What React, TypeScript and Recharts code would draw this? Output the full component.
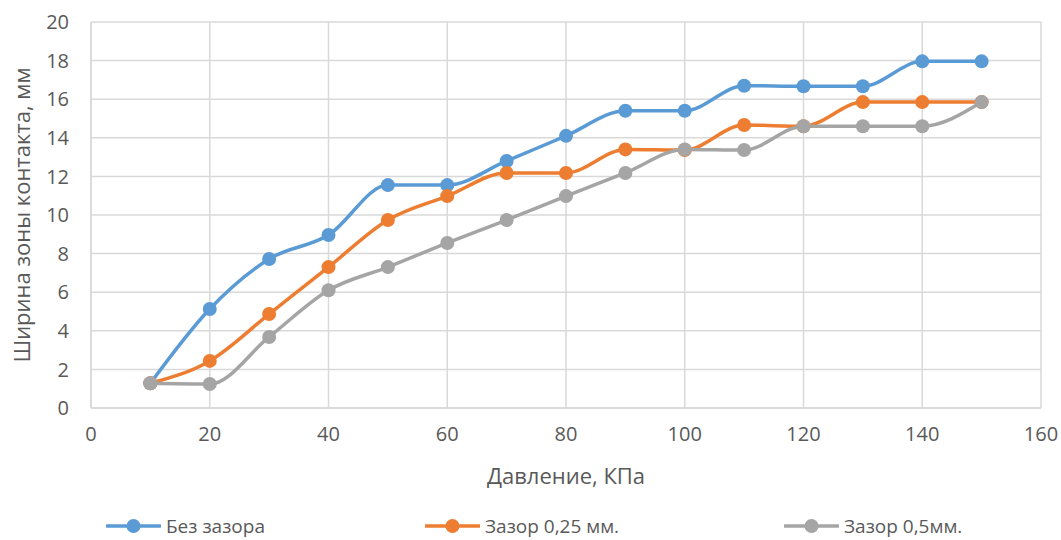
import {
  LineChart,
  Line,
  XAxis,
  YAxis,
  CartesianGrid,
  Legend,
  Label,
} from 'recharts';

const pressure = [10, 20, 30, 40, 50, 60, 70, 80, 90, 100, 110, 120, 130, 140, 150];
const noGap = [1.28, 5.13, 7.72, 8.96, 11.55, 11.55, 12.8, 14.1, 15.4, 15.4, 16.7, 16.67, 16.67, 17.96, 17.96];
const gap025 = [1.28, 2.44, 4.87, 7.3, 9.74, 10.98, 12.18, 12.18, 13.4, 13.37, 14.66, 14.6, 15.85, 15.85, 15.85];
const gap05 = [1.28, 1.24, 3.68, 6.1, 7.3, 8.55, 9.74, 10.98, 12.18, 13.4, 13.37, 14.6, 14.6, 14.6, 15.85];

const xTicks = [0, 20, 40, 60, 80, 100, 120, 140, 160];
const yTicks = [0, 2, 4, 6, 8, 10, 12, 14, 16, 18, 20];

const seriesNames = ['Без зазора', 'Зазор 0,25 мм.', 'Зазор 0,5мм.'];
const colors = ['#5B9BD5', '#ED7D31', '#A5A5A5'];

const data = pressure.map((p, i) => ({
  p,
  a: noGap[i],
  b: gap025[i],
  c: gap05[i],
}));

const FONT = '"Open Sans", "Liberation Sans", sans-serif';

// легенда как в Excel: линия с закрашенной точкой
const renderLegend = () => {
  const lefts = [106, 425, 784];
  return (
    <div style={{position: 'relative', height: 24, fontFamily: FONT, fontSize: 19, color: '#595959'}}>
      {seriesNames.map((name, i) => (
        <div
          key={name}
          style={{position: 'absolute', left: lefts[i], top: 0, display: 'flex', alignItems: 'center', height: 24}}
        >
          <svg width={55} height={16}>
            <line x1={1} y1={8} x2={54} y2={8} stroke={colors[i]} strokeWidth={3.5} strokeLinecap="round" />
            <circle cx={27.5} cy={8} r={7} fill={colors[i]} />
          </svg>
          <span style={{marginLeft: 5}}>{name}</span>
        </div>
      ))}
    </div>
  );
};

const App = () => {
  return (
    <div style={{position: 'fixed', left: 0, top: 0, background: '#fff'}}>
      <LineChart
        width={1061}
        height={540}
        data={data}
        margin={{top: 22, right: 20, left: 0, bottom: 0}}
      >
        <CartesianGrid stroke="#D9D9D9" strokeWidth={1.5} />
        <XAxis
          dataKey="p"
          type="number"
          domain={[0, 160]}
          ticks={xTicks}
          height={106}
          tickLine={false}
          tickMargin={13}
          axisLine={{stroke: '#D9D9D9', strokeWidth: 1.5}}
          tick={{fill: '#595959', fontSize: 20, fontFamily: FONT}}
        >
          <Label
            value="Давление, КПа"
            position="center"
            dy={15}
            style={{fill: '#595959', fontSize: 22, fontFamily: FONT}}
          />
        </XAxis>
        <YAxis
          type="number"
          domain={[0, 20]}
          ticks={yTicks}
          width={91}
          tickLine={false}
          tickMargin={16}
          axisLine={{stroke: '#D9D9D9', strokeWidth: 1.5}}
          tick={{fill: '#595959', fontSize: 20, fontFamily: FONT}}
        >
          <Label
            value="Ширина зоны контакта, мм"
            angle={-90}
            position="center"
            dx={-23}
            style={{fill: '#595959', fontSize: 22, fontFamily: FONT, textAnchor: 'middle'}}
          />
        </YAxis>
        <Legend verticalAlign="bottom" height={26} content={renderLegend} />
        {(['a', 'b', 'c'] as const).map((k, i) => (
          <Line
            key={k}
            dataKey={k}
            name={seriesNames[i]}
            type="monotone"
            stroke={colors[i]}
            strokeWidth={3.5}
            dot={{r: 7, fill: colors[i], stroke: 'none'}}
            activeDot={false}
            isAnimationActive={false}
          />
        ))}
      </LineChart>
    </div>
  );
};

export default App;
